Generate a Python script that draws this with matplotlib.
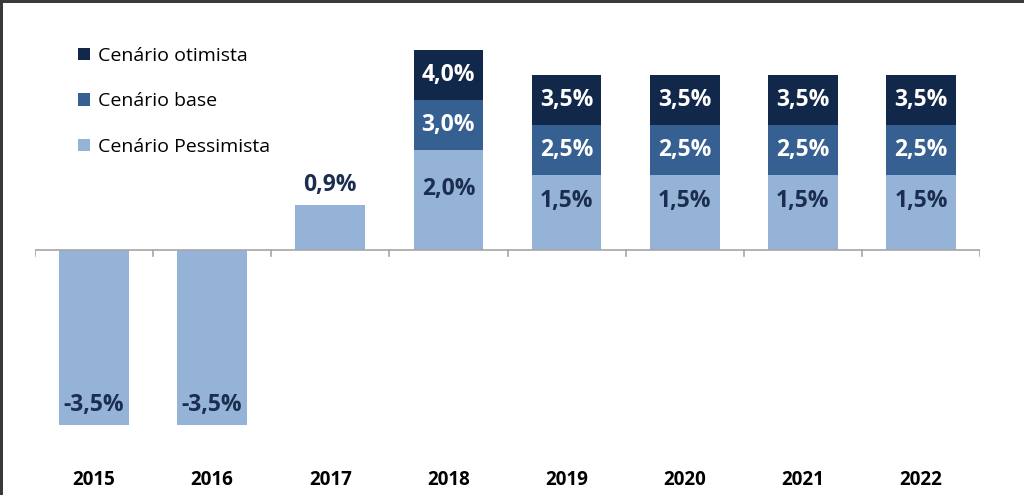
import matplotlib
matplotlib.use("Agg")
import matplotlib.pyplot as plt
from matplotlib.patches import Patch, Rectangle
import numpy as np

years = ["2015", "2016", "2017", "2018", "2019", "2020", "2021", "2022"]
pessimista = [-3.5, -3.5, 0.9, 2.0, 1.5, 1.5, 1.5, 1.5]
base = [None, None, None, 3.0, 2.5, 2.5, 2.5, 2.5]
otimista = [None, None, None, 4.0, 3.5, 3.5, 3.5, 3.5]
series_names = ["Cenário otimista", "Cenário base", "Cenário Pessimista"]

c_light = "#95B3D7"
c_mid = "#366092"
c_dark = "#12284A"
c_text = "#1B2E4F"

plt.rcParams["font.family"] = ["Open Sans", "DejaVu Sans"]

W, H = 1024, 495
fig = plt.figure(figsize=(W / 100, H / 100), dpi=100)
ax = fig.add_axes([35 / W, 0, 945 / W, 1])
ax.set_xlim(-0.5, len(years) - 0.5)
ax.set_ylim(-4.9, 5.0)

x = np.arange(len(years))
bw = 0.59

def fmt(v):
    return f"{v:.1f}%".replace(".", ",")

lab_fs = 16.5
for i, yr in enumerate(years):
    p = pessimista[i]
    ax.bar(x[i], p, width=bw, color=c_light, zorder=2)
    if p < 0:
        ax.text(x[i], p + 0.4, fmt(p), ha="center", va="center",
                fontsize=lab_fs, fontweight="bold", color=c_text)
    elif base[i] is None:
        ax.text(x[i], p + 0.16, fmt(p), ha="center", va="bottom",
                fontsize=lab_fs, fontweight="bold", color=c_text)
    else:
        ax.text(x[i], p / 2 + 0.22, fmt(p), ha="center", va="center",
                fontsize=lab_fs, fontweight="bold", color=c_text)
    if base[i] is not None:
        b = base[i]
        ax.bar(x[i], b - p, bottom=p, width=bw, color=c_mid, zorder=2)
        ax.text(x[i], (b + p) / 2, fmt(b), ha="center", va="center",
                fontsize=lab_fs, fontweight="bold", color="white")
    if otimista[i] is not None:
        o = otimista[i]
        b = base[i]
        ax.bar(x[i], o - b, bottom=b, width=bw, color=c_dark, zorder=2)
        ax.text(x[i], (o + b) / 2, fmt(o), ha="center", va="center",
                fontsize=lab_fs, fontweight="bold", color="white")
    ax.text(x[i], -4.6, yr, ha="center", va="center", fontsize=13.5,
            fontweight="bold", color="black")

# axis line at zero with boundary ticks
ax.axhline(0, color="#A6A6A6", lw=1.2, zorder=3)
for b in np.arange(-0.5, len(years), 1.0):
    ax.plot([b, b], [0, -0.12], color="#A6A6A6", lw=1.2, zorder=3)

ax.axis("off")

handles = [Patch(facecolor=c_dark), Patch(facecolor=c_mid), Patch(facecolor=c_light)]
fig.legend(handles, series_names, loc="upper left",
           bbox_to_anchor=(68 / W, 1 - 37 / H), frameon=False,
           fontsize=14, handlelength=0.62, handleheight=0.62,
           handletextpad=0.4, labelspacing=1.42, borderpad=0,
           labelcolor="black")

# border on left and top
fig.add_artist(Rectangle((0, 0), 2.5 / W, 1, transform=fig.transFigure,
                         color="#3A3A3A", lw=0))
fig.add_artist(Rectangle((0, 1 - 2.5 / H), 1, 2.5 / H, transform=fig.transFigure,
                         color="#3A3A3A", lw=0))

fig.savefig("out.png", dpi=100)
